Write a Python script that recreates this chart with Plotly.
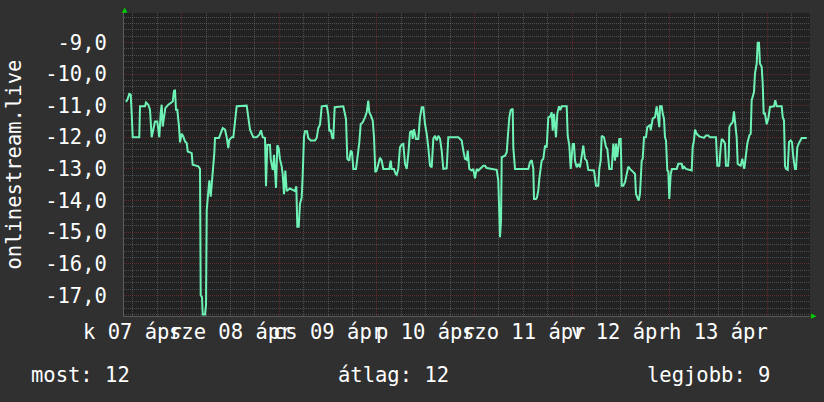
import plotly.graph_objects as go

# hours since 2026-04-07 00:00
hours = [
    10.30, 10.67, 11.11, 11.46, 11.70, 11.95, 13.57, 13.75, 14.98, 15.22,
    15.79, 16.20, 16.62, 17.02, 17.43, 18.00, 18.49, 18.84, 19.08, 19.33,
    19.65, 19.97, 20.71, 21.30, 21.79, 22.11, 22.35, 22.60, 22.92, 23.34,
    23.58, 24.00, 24.39, 24.81, 25.23, 25.48, 26.04, 26.46, 26.70, 27.27,
    28.08, 28.50, 28.67, 28.99, 29.16, 29.73, 29.98, 30.15, 30.54, 30.79,
    31.13, 31.45, 31.77, 32.02, 32.19, 33.17, 34.08, 34.65, 35.07, 35.46,
    35.70, 36.30, 36.69, 37.11, 37.52, 39.98, 40.38, 40.80, 41.61, 42.44,
    43.08, 43.50, 43.92, 44.48, 44.73, 45.05, 45.71, 45.89, 46.38, 46.52,
    46.70, 46.94, 47.19, 47.51, 47.85, 48.17, 48.59, 48.84, 49.16, 49.48,
    49.82, 50.21, 50.63, 51.86, 52.18, 52.43, 52.77, 53.09, 53.51, 53.75,
    53.90, 54.07, 54.32, 54.81, 55.13, 55.72, 56.78, 57.20, 57.59, 58.01,
    58.43, 59.66, 60.05, 60.30, 60.64, 61.03, 61.28, 61.62, 63.74, 64.16,
    64.40, 64.72, 65.21, 65.56, 65.88, 66.20, 66.86, 67.18, 67.67, 68.02,
    68.51, 69.07, 69.49, 69.88, 70.13, 70.55, 70.97, 71.29, 71.61, 71.95,
    72.34, 72.76, 73.18, 73.57, 75.05, 75.39, 75.64, 76.20, 76.62, 76.87,
    77.26, 77.68, 78.10, 78.49, 78.91, 79.33, 79.72, 80.14, 80.56, 80.80,
    81.12, 81.61, 82.18, 82.60, 83.02, 83.41, 83.83, 84.25, 84.64, 85.06,
    85.48, 85.87, 86.29, 86.70, 87.10, 87.52, 87.93, 88.33, 89.16, 89.56,
    92.02, 92.43, 92.85, 93.25, 93.66, 94.08, 94.33, 94.72, 95.31, 95.70,
    96.12, 96.54, 96.93, 97.77, 98.16, 98.58, 99.00, 101.46, 101.85, 102.27,
    102.52, 102.69, 103.08, 103.50, 103.92, 104.31, 104.56, 104.90, 105.39, 105.54,
    105.96, 109.23, 109.65, 110.07, 110.46, 110.63, 111.12, 111.37, 111.69, 111.93,
    112.28, 112.52, 112.92, 113.34, 113.75, 114.15, 114.57, 114.98, 115.23, 115.55,
    116.04, 116.36, 116.78, 117.10, 117.44, 118.67, 118.92, 119.31, 119.66, 120.15,
    120.47, 120.71, 121.13, 121.52, 121.94, 122.36, 122.75, 123.17, 123.59, 123.98,
    125.38, 125.88, 126.44, 126.69, 127.03, 127.28, 127.84, 128.34, 128.66, 129.15,
    129.74, 130.13, 130.55, 130.79, 131.11, 131.61, 131.95, 132.20, 132.59, 133.01,
    133.43, 133.82, 134.24, 134.66, 135.05, 135.47, 135.71, 136.03, 136.38, 136.70,
    137.11, 137.36, 137.68, 138.17, 138.49, 139.16, 139.33, 139.82, 140.38, 140.80,
    140.95, 141.29, 141.44, 141.61, 142.03, 142.28, 142.60, 142.84, 143.09, 143.41,
    143.66, 143.90, 144.25, 144.56, 145.72, 146.11, 146.95, 147.20, 147.52, 148.01,
    149.41, 149.65, 149.97, 150.22, 150.64, 151.28, 152.43, 152.93, 153.49, 153.91,
    155.38, 155.70, 156.20, 156.54, 156.79, 157.18, 157.60, 157.84, 158.34, 158.51,
    158.66, 159.00, 159.49, 159.81, 160.06, 160.47, 160.72, 161.46, 161.85, 162.10,
    162.34, 162.69, 163.08, 163.57, 163.92, 164.16, 164.41, 164.73, 164.97, 165.39,
    165.64, 165.96, 166.20, 166.62, 166.87, 167.11, 167.43, 167.85, 168.25, 168.66,
    169.65, 169.97, 170.31, 171.54, 171.79, 172.11, 172.35, 172.60, 173.02, 173.34,
    173.75, 174.07, 174.39, 174.81, 175.06, 175.38, 175.72, 176.04, 176.46, 177.69,
]

values = [
    -10.88, -10.80, -10.63, -10.65, -11.23, -12.00, -12.00, -11.02, -11.02, -10.90,
    -10.97, -11.13, -12.00, -11.70, -11.50, -11.50, -12.00, -11.23, -10.97, -11.66,
    -11.40, -11.08, -10.97, -10.92, -10.87, -10.53, -10.52, -11.13, -11.13, -11.66,
    -12.16, -11.89, -11.97, -12.13, -12.18, -12.45, -12.48, -12.50, -12.87, -12.90,
    -12.92, -13.00, -17.00, -17.05, -17.60, -17.60, -17.30, -14.30, -13.73, -13.36,
    -13.88, -13.40, -13.15, -12.50, -12.02, -12.02, -11.71, -11.76, -12.00, -12.34,
    -12.08, -12.00, -12.00, -11.45, -11.02, -11.00, -11.45, -11.76, -12.00, -12.00,
    -11.92, -11.78, -12.00, -12.02, -13.55, -12.24, -12.24, -12.70, -13.03, -12.98,
    -12.55, -13.20, -13.60, -12.25, -12.35, -12.70, -12.92, -13.18, -13.80, -13.05,
    -13.70, -13.66, -13.62, -13.70, -13.55, -14.83, -14.83, -14.10, -13.90, -13.20,
    -12.50, -11.98, -11.81, -11.81, -12.02, -12.10, -12.10, -12.02, -11.71, -11.60,
    -11.02, -11.00, -11.29, -11.81, -11.76, -12.02, -12.05, -11.05, -11.02, -11.30,
    -11.42, -12.68, -12.74, -12.42, -12.47, -13.00, -13.00, -12.68, -12.16, -11.58,
    -11.53, -11.37, -11.21, -10.84, -11.21, -11.32, -11.47, -12.00, -13.10, -13.05,
    -12.84, -12.65, -12.74, -13.00, -13.00, -12.74, -13.00, -13.00, -13.16, -13.19,
    -13.00, -12.32, -12.23, -12.21, -12.84, -13.00, -12.53, -11.84, -11.79, -12.05,
    -11.74, -12.05, -12.05, -11.37, -11.05, -11.05, -11.58, -11.89, -12.32, -12.90,
    -12.95, -12.05, -11.95, -12.10, -11.95, -12.05, -12.42, -13.00, -12.98, -12.00,
    -12.00, -12.05, -12.10, -12.42, -12.68, -12.71, -12.42, -13.00, -13.05, -13.00,
    -13.30, -13.00, -13.05, -12.95, -12.90, -12.90, -12.97, -13.03, -13.37, -15.16,
    -14.63, -12.63, -12.60, -12.58, -12.47, -11.89, -11.37, -11.14, -11.10, -12.32,
    -13.00, -13.00, -12.79, -12.72, -13.00, -13.95, -13.95, -13.90, -13.68, -13.32,
    -12.95, -12.74, -12.68, -12.26, -12.32, -11.37, -11.35, -11.21, -11.79, -11.26,
    -12.00, -11.26, -11.02, -11.14, -11.02, -11.02, -11.95, -12.26, -13.00, -12.21,
    -12.21, -12.74, -12.95, -12.84, -12.95, -12.58, -12.26, -12.68, -12.74, -13.03,
    -13.05, -13.53, -13.53, -13.00, -12.74, -11.95, -12.00, -12.31, -12.37, -13.00,
    -13.00, -12.20, -12.74, -12.20, -12.63, -12.05, -12.05, -13.53, -13.53, -13.42,
    -13.16, -12.93, -13.00, -13.07, -13.10, -13.16, -13.79, -13.90, -14.00, -13.79,
    -12.74, -12.68, -12.00, -12.00, -11.68, -11.62, -11.78, -11.41, -11.36, -11.02,
    -11.20, -11.41, -11.68, -11.02, -11.02, -11.25, -11.41, -12.00, -12.10, -13.05,
    -13.07, -13.95, -13.16, -13.00, -13.00, -12.84, -12.84, -13.00, -12.93, -13.00,
    -13.05, -12.31, -12.10, -11.76, -11.89, -11.97, -12.02, -11.94, -11.94, -12.00,
    -12.00, -12.90, -12.90, -12.31, -12.05, -12.10, -12.20, -12.90, -12.90, -12.63,
    -11.68, -11.59, -11.52, -11.18, -11.47, -12.00, -12.84, -12.90, -12.68, -12.90,
    -13.00, -12.63, -12.20, -11.94, -11.89, -10.83, -10.67, -10.57, -9.98, -9.67,
    -9.01, -9.01, -9.67, -9.77, -10.30, -11.25, -11.25, -11.59, -11.41, -11.04,
    -11.02, -10.83, -11.02, -11.02, -11.36, -11.47, -12.90, -13.00, -13.03, -12.15,
    -12.10, -12.15, -12.63, -13.00, -13.00, -12.31, -12.20, -12.10, -12.02, -12.02,
]

day_label_hours = [12, 36, 60, 84, 108, 132, 156]
day_labels = ["k 07 ápr", "sze 08 ápr", "cs 09 ápr", "p 10 ápr",
              "szo 11 ápr", "v 12 ápr", "h 13 ápr"]
y_tick_values = [-17, -16, -15, -14, -13, -12, -11, -10, -9]
y_tick_labels = ["-17,0", "-16,0", "-15,0", "-14,0", "-13,0",
                 "-12,0", "-11,0", "-10,0", "-9,0"]
y_title = "onlinestream.live"
legend_texts = ["most: 12", "átlag: 12", "legjobb: 9"]

FONT = "DejaVu Sans Mono"
FS = 20.5
WHITE = "#ffffff"
MAJOR = "rgba(160,48,48,0.5)"
MINOR = "rgba(140,140,140,0.42)"
DOT = "1px,1px"

# minor grid positions (every 6 h / every 0.2), skipping the major ones
x_minor = [h for h in range(0, 180, 6) if h % 24 != 0]
y_minor = [round(-18 + k * 0.2, 1) for k in range(0, 51) if k % 5 != 0]

fig = go.Figure(go.Scatter(
    x=hours, y=values, mode="lines",
    line=dict(color="#6ef2b6", width=2),
    hoverinfo="skip",
))

fig.update_layout(
    width=824, height=402,
    margin=dict(l=124, r=14, t=13, b=86, pad=0),
    paper_bgcolor="#303030",
    plot_bgcolor="#222222",
    showlegend=False,
    font=dict(family=FONT, size=FS, color=WHITE),
)

fig.update_xaxes(
    range=[9.81, 178.5], tickmode="linear", tick0=0, dtick=24,
    showticklabels=False, ticks="",
    showgrid=True, gridcolor=MAJOR, griddash=DOT, gridwidth=1,
    minor=dict(tickmode="array", tickvals=x_minor, showgrid=True,
               gridcolor=MINOR, griddash=DOT, gridwidth=1, ticks=""),
    zeroline=False, showline=True, linecolor="#5a5a5a", linewidth=1,
)

fig.update_yaxes(
    range=[-17.65, -8.07], tickmode="array",
    tickvals=y_tick_values, ticktext=y_tick_labels,
    ticks="", ticklabelstandoff=12,
    tickfont=dict(family=FONT, size=FS, color=WHITE),
    showgrid=True, gridcolor=MAJOR, griddash=DOT, gridwidth=1,
    minor=dict(tickmode="array", tickvals=y_minor, showgrid=True,
               gridcolor=MINOR, griddash=DOT, gridwidth=1, ticks=""),
    zeroline=False, showline=True, linecolor="#5a5a5a", linewidth=1,
)

annotations = []
for h, lab in zip(day_label_hours, day_labels):
    annotations.append(dict(
        x=h, y=0, xref="x", yref="paper", text=lab, showarrow=False,
        xanchor="center", yanchor="middle", yshift=-16,
        font=dict(family=FONT, size=FS, color=WHITE),
    ))

legend_x = [-0.1385, 0.3090, 0.7594]
for lx, txt in zip(legend_x, legend_texts):
    annotations.append(dict(
        x=lx, y=0, xref="paper", yref="paper", text=txt, showarrow=False,
        xanchor="left", yanchor="middle", yshift=-59,
        font=dict(family=FONT, size=FS, color=WHITE),
    ))

annotations.append(dict(
    x=0, y=0.5, xref="paper", yref="paper", text=y_title, showarrow=False,
    textangle=-90, xanchor="center", yanchor="middle", xshift=-111,
    font=dict(family=FONT, size=FS, color=WHITE),
))

annotations.append(dict(
    x=0, y=1, xref="paper", yref="paper", text="▲", showarrow=False,
    xanchor="center", yanchor="middle", yshift=3, xshift=1,
    font=dict(family="DejaVu Sans", size=7, color="#00cc00"),
))
annotations.append(dict(
    x=1, y=0, xref="paper", yref="paper", text="▶", showarrow=False,
    xanchor="center", yanchor="middle", xshift=4,
    font=dict(family="DejaVu Sans", size=7, color="#00cc00"),
))

fig.update_layout(annotations=annotations)

fig.write_html(
    "out.html",
    config={"displayModeBar": False, "staticPlot": True},
    post_script="document.body.style.margin='0';document.body.style.overflow='hidden';",
)
